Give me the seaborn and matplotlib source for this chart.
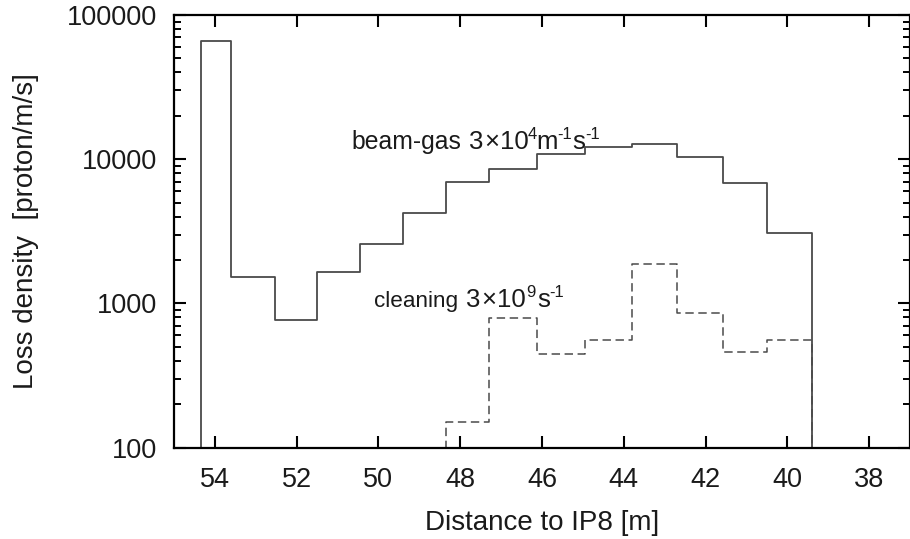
import numpy as np
import matplotlib
matplotlib.use("Agg")
import matplotlib.pyplot as plt
import matplotlib.transforms as mtransforms
import seaborn as sns

# bin edges along the beam line [m] and loss densities [proton/m/s]
beamgas_edges = [54.34, 53.61, 52.54, 51.50, 50.45, 49.40, 48.35, 47.30,
                 46.13, 44.95, 43.80, 42.69, 41.58, 40.49, 39.39]
beamgas_vals = [66000, 1525, 762, 1640, 2600, 4250, 6920, 8580,
                10900, 12250, 12850, 10400, 6890, 3080]

cleaning_edges = [48.35, 47.30, 46.13, 44.95, 43.80, 42.69, 41.58, 40.49, 39.40]
cleaning_vals = [150, 792, 447, 560, 1866, 853, 462, 560]

xticks = [54, 52, 50, 48, 46, 44, 42, 40, 38]
yticks = [100, 1000, 10000, 100000]
floor = 10  # below the axis, so the outer edges drop through the frame


def step_xy(edges, vals):
    # close the histogram outline down to the floor on both ends
    x = [edges[0]] + list(edges) + [edges[-1]]
    y = [floor] + list(vals) + [vals[-1], floor]
    return np.array(x), np.array(y)


sns.set_style("ticks")
plt.rcParams['font.family'] = ['Liberation Sans', 'DejaVu Sans']

fig = plt.figure(figsize=(9.1, 5.39), dpi=100)
ax = fig.add_axes([174/910, 1-447.7/539, 736/910, (447.7-15)/539])

bx, by = step_xy(beamgas_edges, beamgas_vals)
cx, cy = step_xy(cleaning_edges, cleaning_vals)
sns.lineplot(x=bx, y=by, sort=False, estimator=None, ax=ax, color='#4a4a4a',
             lw=1.3, drawstyle='steps-post')
sns.lineplot(x=cx, y=cy, sort=False, estimator=None, ax=ax, color='#4a4a4a',
             lw=1.1, drawstyle='steps-post', linestyle=(0, (5.5, 3)))

ax.set_yscale('log')
ax.set_ylim(100, 100000)
ax.set_xlim(55, 37)
ax.set_xticks(xticks)
ax.set_xticklabels([str(t) for t in xticks])
ax.set_yticks(yticks)
ax.set_yticklabels([str(t) for t in yticks])

ax.tick_params(axis='both', which='major', direction='in', length=8.5, width=1.5,
               labelsize=19.5, top=True, right=True, color='black',
               labelcolor='#1a1a1a')
ax.tick_params(axis='y', which='minor', direction='in', length=5, width=1.4,
               right=True, left=True, color='black')
ax.tick_params(axis='x', which='minor', bottom=False, top=False)
ax.tick_params(axis='x', pad=14)
ax.tick_params(axis='y', pad=12)
for s in ax.spines.values():
    s.set_linewidth(1.6)
    s.set_color('black')

ax.set_xlabel('Distance to IP8 [m]', fontsize=20, labelpad=12, color='#1a1a1a')
ax.set_ylabel('Loss density  [proton/m/s]', fontsize=20, labelpad=20, color='#1a1a1a')


def rich_text(x, y, pieces):
    # pieces: (text, fontsize, rise in pt, gap after in pt)
    renderer = fig.canvas.get_renderer()
    dx = 0.0
    for s, size, rise, gap in pieces:
        tr = mtransforms.offset_copy(ax.transData, fig=fig, x=dx, y=rise, units='points')
        t = ax.text(x, y, s, fontsize=size, transform=tr, va='baseline', ha='left',
                    color='#1a1a1a')
        dx += t.get_window_extent(renderer).width * 72 / fig.dpi + gap


rich_text(50.67, 11860, [('beam-gas', 17.8, 0, 5.5), ('3', 18.5, 0, 0.6),
                         ('\u00d7', 18.5, 0, 0.6), ('10', 18.5, 0, -0.3),
                         ('4', 12, 7, -0.6), ('m', 18.5, 0, -0.3),
                         ('-1', 12, 7, 0.2), ('s', 18.5, 0, -0.3),
                         ('-1', 12, 7, 0)])
rich_text(50.11, 948, [('cleaning', 16.2, 0, 6.0), ('3', 18.5, 0, 0.6),
                       ('\u00d7', 18.5, 0, 0.6), ('10', 18.5, 0, -0.3),
                       ('9', 12, 7, 1.2), ('s', 18.5, 0, -0.3),
                       ('-1', 12, 7, 0)])

fig.savefig('out.png', dpi=100)
